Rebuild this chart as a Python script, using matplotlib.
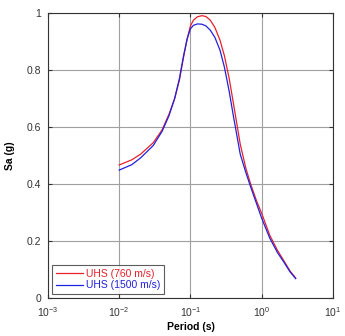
import matplotlib
matplotlib.use("Agg")
import matplotlib.pyplot as plt
import numpy as np

plt.rcParams["font.family"] = ["Liberation Sans", "DejaVu Sans"]

# Uniform hazard spectra
period = [0.01, 0.015, 0.02, 0.03, 0.04, 0.05, 0.06, 0.07, 0.08, 0.09, 0.1, 0.11, 0.125,
          0.145, 0.165, 0.19, 0.22, 0.26, 0.3, 0.35, 0.4, 0.5, 0.6, 0.7, 0.85, 1.0, 1.3,
          1.66, 2.0, 2.5, 3.0]
sa_760 = [0.467, 0.485, 0.505, 0.545, 0.59, 0.645, 0.70, 0.765, 0.845, 0.91, 0.955,
          0.975, 0.987, 0.991, 0.988, 0.975, 0.95, 0.905, 0.85, 0.77, 0.685, 0.54, 0.455,
          0.40, 0.34, 0.297, 0.22, 0.168, 0.135, 0.095, 0.07]
sa_1500 = [0.449, 0.468, 0.492, 0.535, 0.585, 0.64, 0.70, 0.77, 0.85, 0.91, 0.945,
           0.957, 0.962, 0.961, 0.955, 0.94, 0.915, 0.87, 0.81, 0.725, 0.64, 0.505, 0.44,
           0.39, 0.33, 0.28, 0.21, 0.16, 0.13, 0.092, 0.068]

fig = plt.figure(figsize=(3.45, 3.36), dpi=100)
ax = fig.add_axes([0.139, 0.113, 0.826, 0.848])

ax.semilogx(period, sa_760, color="#e8202a", linewidth=0.9, label="UHS (760 m/s)")
ax.semilogx(period, sa_1500, color="#2020e0", linewidth=0.9, label="UHS (1500 m/s)")

ax.set_xlim(1e-3, 10)
ax.set_ylim(0, 1)
ax.set_xticks([1e-3, 1e-2, 1e-1, 1, 10])
ax.set_yticks([0, 0.2, 0.4, 0.6, 0.8, 1])
ax.set_yticklabels(["0", "0.2", "0.4", "0.6", "0.8", "1"])
ax.minorticks_off()
ax.grid(True, color="#a0a0a0", linewidth=0.8)
ax.tick_params(direction="in", top=True, right=True, labelsize=7.5, colors="#333333",
               length=3, pad=5)
for s in ax.spines.values():
    s.set_color("#333333")
    s.set_linewidth(0.8)

ax.set_xlabel("Period (s)", fontsize=7.5, fontweight="bold", labelpad=2)
ax.set_ylabel("Sa (g)", fontsize=7.5, fontweight="bold", labelpad=8)

leg = ax.legend(loc="lower left", fontsize=7.5, frameon=True, fancybox=False,
                handlelength=2.6, handletextpad=0.3, borderpad=0.35, labelspacing=0.15,
                borderaxespad=0.4)
leg.get_frame().set_edgecolor("#333333")
leg.get_frame().set_linewidth(0.8)
for txt, c in zip(leg.get_texts(), ["#e8202a", "#2020e0"]):
    txt.set_color(c)

fig.savefig("out.png", dpi=100)
